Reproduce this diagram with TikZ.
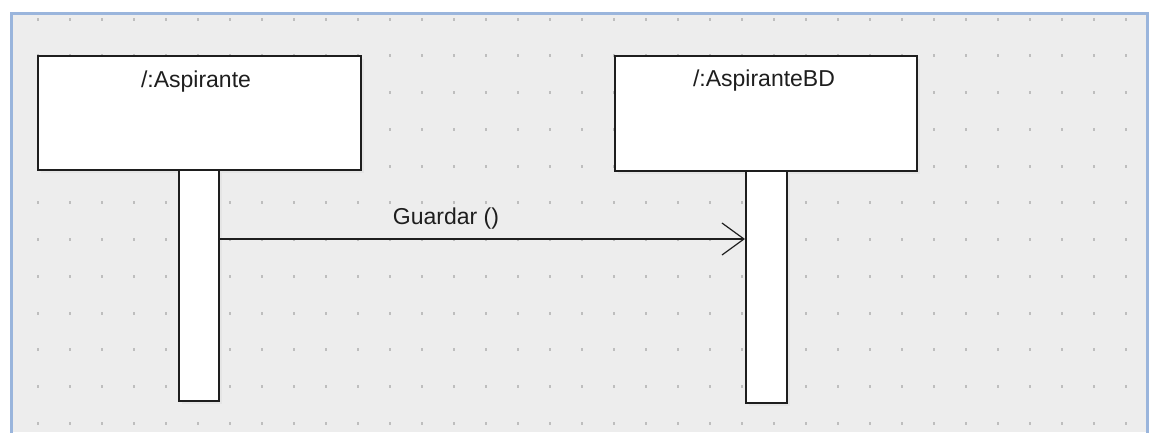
\documentclass[tikz,border=0pt]{standalone}
\usepackage{fontspec}
\setmainfont{Liberation Sans}
\usetikzlibrary{arrows.meta}
\definecolor{canvas}{HTML}{EDEDED}
\definecolor{framecol}{HTML}{9AB5DC}
\definecolor{dotcol}{HTML}{BEBEBE}
\definecolor{inkcol}{HTML}{1E1E1E}
\tikzset{
  boxstyle/.style={draw=inkcol, fill=white, line width=1.8pt, rectangle, inner sep=0pt, anchor=north west},
  lbl/.style={font=\fontsize{23}{27}\selectfont, text=inkcol, inner sep=0pt, anchor=base},
  msg/.style={draw=inkcol, line width=1.3pt, -{Straight Barb[length=22pt,width=32pt,line width=1.2pt]}},
  shadowA/.style={fill=black!10},
  shadowB/.style={fill=black!28}
}
\begin{document}
\begin{tikzpicture}[x=1pt,y=-1pt]
  \useasboundingbox (0,0) rectangle (1154,432);
  % white page and grey canvas
  \fill[white] (0,0) rectangle (1154,432);
  \fill[canvas] (11,13) rectangle (1147,432);
  \draw[framecol, line width=3pt] (11,436) -- (11,13) -- (1147,13) -- (1147,436);
  % grid dots
  \foreach \i in {0,...,34} {
    \foreach \j in {0,...,11} {
      \fill[dotcol] ({38+32*\i-1},{19+36.75*\j-1.5}) rectangle ++(2,3);
    }
  }
  % drop shadows
  \fill[shadowA] (41,59) rectangle (364,173);
  \fill[shadowB] (39,57) rectangle (362,171);
  \fill[shadowA] (182,173) rectangle (222,404);
  \fill[shadowB] (180,171) rectangle (220,402);
  \fill[shadowA] (618,59) rectangle (920,174);
  \fill[shadowB] (616,57) rectangle (918,172);
  \fill[shadowA] (749,174) rectangle (790,406);
  \fill[shadowB] (747,172) rectangle (788,404);
  % lifeline objects
  \node[boxstyle, minimum width=323pt, minimum height=114pt] (obj1) at (37,55) {};
  \node[boxstyle, minimum width=302pt, minimum height=115pt] (obj2) at (614,55) {};
  % activation bars
  \node[boxstyle, minimum width=40pt, minimum height=231pt] (act1) at (178,169) {};
  \node[boxstyle, minimum width=41pt, minimum height=232pt] (act2) at (745,170) {};
  % titles
  \node[lbl] (t1) at (196,87) {/:Aspirante};
  \node[lbl] (t2) at (764,86) {/:AspiranteBD};
  % message
  \coordinate (m1) at (act1.east |- 0,239);
  \coordinate (m2) at (act2.west |- 0,239);
  \draw[msg] (m1) -- (m2);
  \node[lbl] (g) at (446,224) {Guardar ()};
\end{tikzpicture}
\end{document}
